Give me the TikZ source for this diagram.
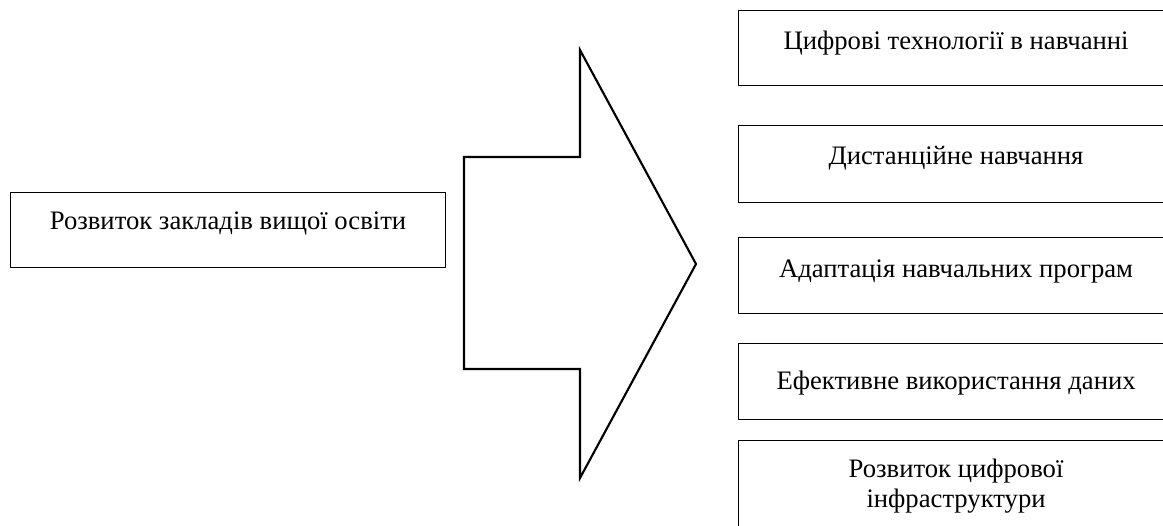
\documentclass[tikz,border=0pt]{standalone}
\usepackage{fontspec}
\setmainfont{Liberation Serif}
\usetikzlibrary{positioning}
\tikzset{
  kader/.style={draw, line width=1.1pt, anchor=north west, minimum width=326pt,
    inner xsep=0pt, inner ysep=0pt, align=center,
    font=\fontsize{20}{22.5}\selectfont},
  strilka/.style={draw, line width=1.6pt, line join=miter}
}

\begin{document}
\begin{tikzpicture}[x=0.75pt, y=-0.75pt]
\useasboundingbox (0,0) rectangle (1163,525);
\clip (0,0) rectangle (1163,525);
% left box
\node[kader, text height=27.75pt, text depth=28.5pt] (zvo) at (10,192) {Розвиток закладів вищої освіти};
% big arrow
\draw[strilka] (464,157) -- (580,157) -- (580,50) -- (696,264) -- (580,478) -- (580,369) -- (464,369) -- cycle;
% right boxes
\node[kader, text height=29.25pt, text depth=27pt] (tech) at (738,10) {Цифрові технології в навчанні};
\node[kader, text height=29.25pt, text depth=28.5pt] (dist) at (738,125) {Дистанційне навчання};
\node[kader, text height=30pt, text depth=27pt] (adapt) at (738,237) {Адаптація навчальних програм};
\node[kader, text height=34.5pt, text depth=22.5pt] (dani) at (738,343) {Ефективне використання даних};
\node[kader, text height=50pt, text depth=18pt] (infra) at (738,440) {Розвиток цифрової\\інфраструктури};
\end{tikzpicture}
\end{document}
